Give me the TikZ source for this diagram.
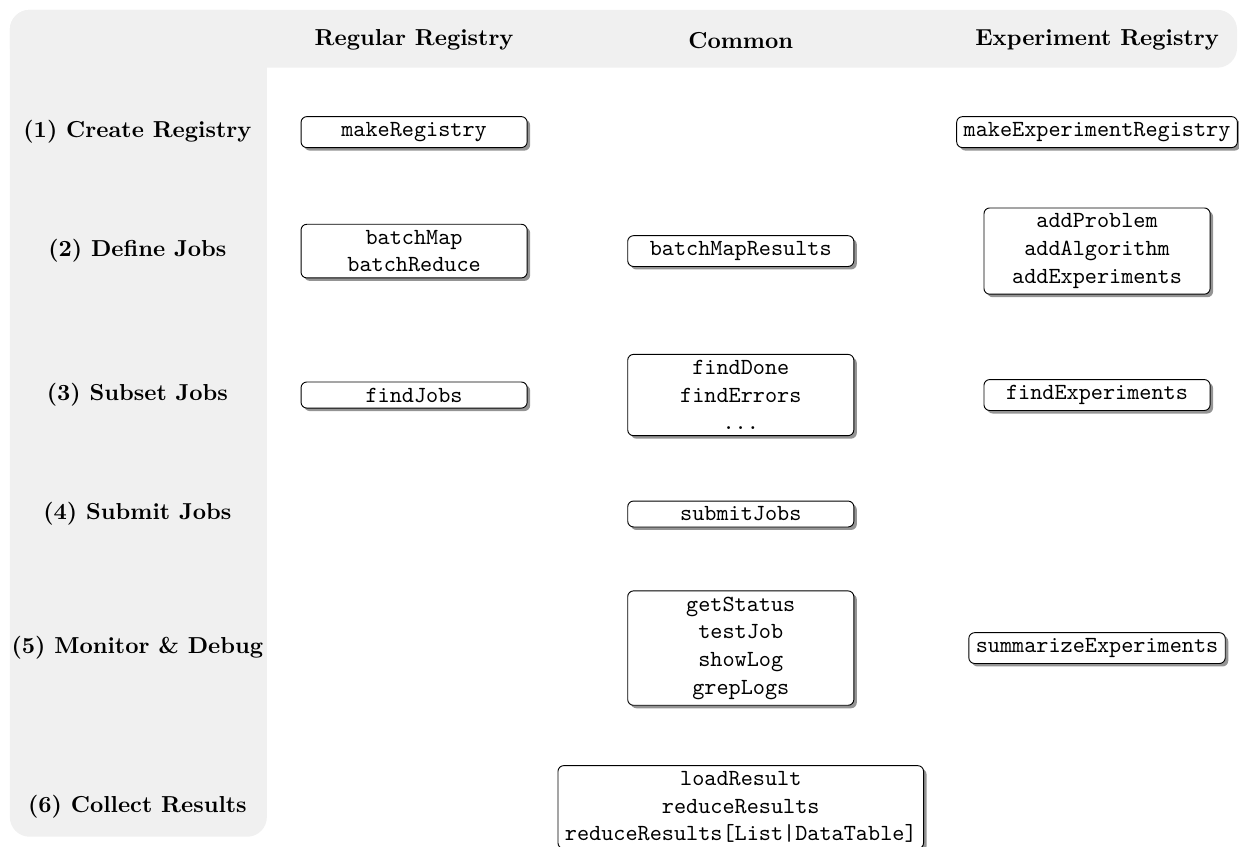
\documentclass[tikz,border=0pt]{standalone}
\usepackage{amsmath}
\usetikzlibrary{shadows}

\begin{document}
\begin{tikzpicture}[scale=1,
  fn/.style={draw, rounded corners=2.5pt, fill=white, align=center, font=\ttfamily,
    minimum width=3.44cm, inner xsep=3pt, inner ysep=2.5pt,
    drop shadow={shadow xshift=1.3pt, shadow yshift=-1.3pt, fill=black!60, opacity=0.7}},
  head/.style={font=\bfseries}]
\useasboundingbox (0,0) rectangle (18.85,-12.88);
% grey band for the headers
\fill[black!6, rounded corners=0.3cm] (0.15,-0.15) rectangle (18.82,-1.03);
\fill[black!6, rounded corners=0.3cm] (0.15,-0.15) rectangle (4.06,-12.73);
% column headers
\node[head] (hreg) at (6.30,-0.61) {Regular Registry};
\node[head] (hcom) at (11.27,-0.61) {Common};
\node[head] (hexp) at (16.69,-0.61) {Experiment Registry};
% row labels
\node[head] (rcreate) at (2.09,-2.01) {(1) Create Registry};
\node[head] (rdefine) at (2.09,-3.82) {(2) Define Jobs};
\node[head] (rsubset) at (2.09,-6.01) {(3) Subset Jobs};
\node[head] (rsubmit) at (2.09,-7.82) {(4) Submit Jobs};
\node[head] (rmonitor) at (2.09,-9.86) {(5) Monitor \& Debug};
\node[head] (rcollect) at (2.09,-12.27) {(6) Collect Results};
% functions
\node[fn] (makereg) at (6.30,-2.01) {makeRegistry};
\node[fn] (makeexp) at (16.69,-2.01) {makeExperimentRegistry};
\node[fn] (batch) at (6.30,-3.82) {batchMap\\batchReduce};
\node[fn] (batchres) at (11.27,-3.82) {batchMapResults};
\node[fn] (addprob) at (16.69,-3.82) {addProblem\\addAlgorithm\\addExperiments};
\node[fn] (findjobs) at (6.30,-6.01) {findJobs};
\node[fn] (finddone) at (11.27,-6.01) {findDone\\findErrors\\...};
\node[fn] (findexp) at (16.69,-6.01) {findExperiments};
\node[fn] (submit) at (11.27,-7.82) {submitJobs};
\node[fn] (status) at (11.27,-9.86) {getStatus\\testJob\\showLog\\grepLogs};
\node[fn] (summexp) at (16.69,-9.86) {summarizeExperiments};
\node[fn] (load) at (11.27,-12.28) {loadResult\\reduceResults\\reduceResults[List|DataTable]};
\end{tikzpicture}
\end{document}
